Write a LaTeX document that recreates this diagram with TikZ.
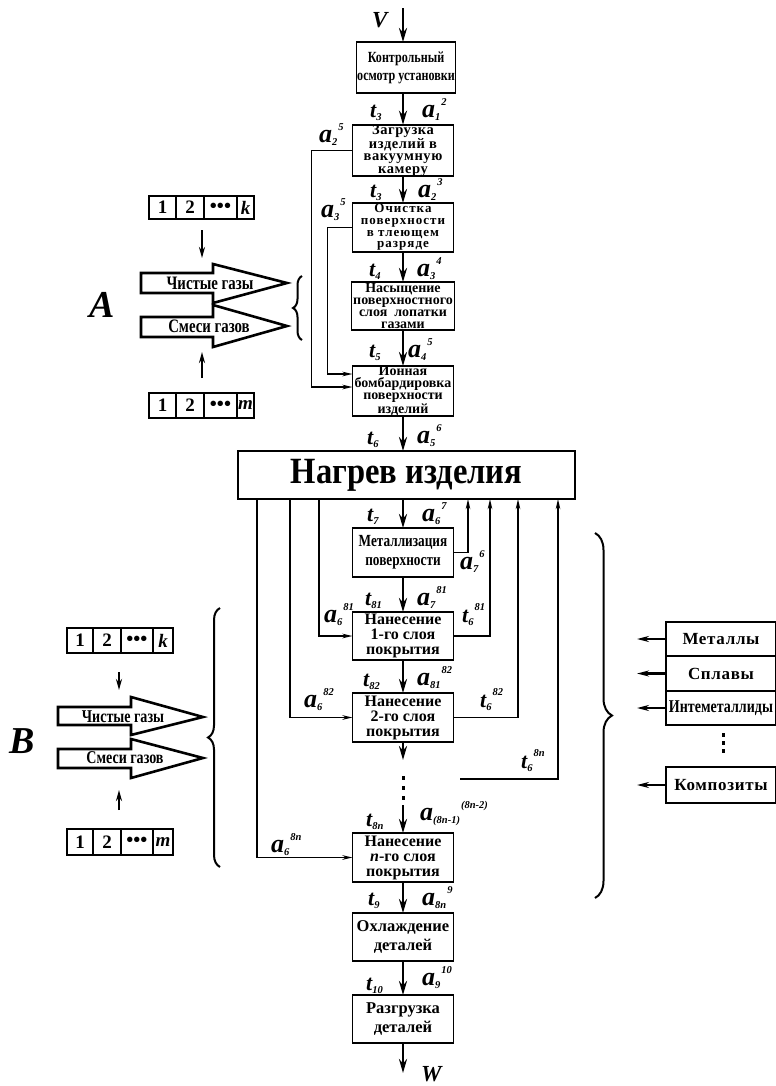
\documentclass[tikz,border=0pt]{standalone}
\usepackage{fontspec}
\setmainfont{Liberation Serif}
\newfontfamily\narrowf[FakeStretch=0.78]{Liberation Serif}
\newfontfamily\headf[FakeStretch=0.88]{Liberation Serif}
\usetikzlibrary{arrows.meta, positioning, calc, decorations.pathreplacing}
\newcommand{\fs}[2]{\fontsize{#1bp}{#2bp}\selectfont}
\newcommand{\idx}[4]{{\bfseries\itshape\fs{#1}{#1}#2\fs{10.5}{10.5}\raisebox{-3bp}{#3}\raisebox{12bp}{\kern1bp#4}}}
\newcommand{\alab}[2]{\idx{26}{a}{#1}{#2}}
\newcommand{\tlab}[2]{\idx{22}{t}{#1}{#2}}
\tikzset{
  opbox/.style={draw, line width=1.9bp, inner sep=0pt, outer sep=0pt, align=center, minimum width=101bp, minimum height=49bp, font=\fs{14}{12}\bfseries},
  condbox/.style={opbox, font=\narrowf\fs{15.5}{18}\bfseries},
  layerbox/.style={opbox, font=\fs{16}{15}\bfseries},
  endbox/.style={opbox, font=\fs{16.5}{18.5}\bfseries},
  cell/.style={draw, line width=1.9bp, inner sep=0pt, outer sep=0pt, minimum height=24bp, font=\fs{19}{19}\bfseries},
  matbox/.style={draw, line width=1.9bp, inner sep=0pt, outer sep=0pt, minimum width=110bp, minimum height=35bp, font=\fs{17}{17}\bfseries\addfontfeature{LetterSpace=4}},
  gastext/.style={inner sep=0pt, font=\narrowf\fs{19}{19}\bfseries},
  gasarrow/.style={line width=2.6bp, fill=white, line join=miter},
  flow/.style={-{Stealth[length=14bp,width=8bp]}, line width=2.6bp},
  feed/.style={-{Stealth[length=10bp,width=4.5bp]}, line width=1.8bp},
  pick/.style={-{Stealth[length=11bp,width=6bp]}, line width=2.2bp},
  curly/.style={decorate, decoration={brace, amplitude=#1}, line width=2bp},
  lbl/.style={anchor=base west, inner sep=0pt},
  biglet/.style={inner sep=0pt, font=\fs{38}{38}\bfseries\itshape},
}

\begin{document}
\begin{tikzpicture}[x=1bp, y=-1bp]
  \useasboundingbox (0,0) rectangle (776,1086);

  % main column
  \node[condbox, minimum width=99bp, minimum height=51bp] (kon) at (406,67.5) {Контрольный\\осмотр установки};
  \node[opbox, font=\fs{14.5}{12.4}\bfseries\addfontfeature{LetterSpace=4}, minimum height=51bp] (zag) at (403,150.5) {Загрузка\\изделий в\\вакуумную\\камеру};
  \node[opbox, font=\fs{13}{11.7}\bfseries\addfontfeature{LetterSpace=8}] (och) at (403,227.5) {Очистка\\поверхности\\в тлеющем\\разряде};
  \node[opbox, minimum width=103bp, minimum height=48bp] (nas) at (403,306) {Насыщение\\поверхностного\\слоя\ \ лопатки\\газами};
  \node[opbox, minimum height=50bp] (ion) at (403,391) {Ионная\\бомбардировка\\поверхности\\изделий};
  \node[draw, line width=1.9bp, minimum width=337bp, minimum height=48bp, inner sep=0pt, outer sep=0pt, font=\headf\fs{37}{37}\bfseries] (nag) at (406.5,475) {Нагрев изделия};
  \node[condbox, font=\narrowf\fs{17}{19}\bfseries] (met) at (403,552.5) {Металлизация\\поверхности};
  \node[layerbox, minimum height=48bp] (nan1) at (403,636) {Нанесение\\1-го слоя\\покрытия};
  \node[layerbox] (nan2) at (403,717.5) {Нанесение\\2-го слоя\\покрытия};
  \node[layerbox] (nanN) at (403,857.5) {Нанесение\\\textit{n}-го слоя\\покрытия};
  \node[endbox, minimum height=48bp] (ohl) at (403,937) {Охлаждение\\деталей};
  \node[endbox, minimum height=48bp] (razg) at (403,1019) {Разгрузка\\деталей};

  \coordinate (vin) at (403,8);
  \coordinate (wout) at (403,1073);
  \coordinate (dtop) at (403,760);
  \coordinate (dbot) at (403,805);
  \draw[flow] (vin) -- (vin |- kon.north);
  \foreach \i/\j in {kon/zag,zag/och,och/nas,nas/ion,nag/met,met/nan1,nan1/nan2,nanN/ohl,ohl/razg}
    \draw[flow] (\j.north |- \i.south) -- (\j.north);
  \draw[flow] (ion.south) -- (ion.south |- nag.north);
  \draw[flow] (nan2.south) -- (dtop);
  \draw[flow] (dbot) -- (nanN.north);
  \draw[flow] (razg.south) -- (wout);
  \foreach \y in {776,786,796} \fill (401.5,\y) rectangle +(3.5,4);

  % returns into ion bombardment
  \draw[feed] (zag.west) -- ++(-41,0) |- ($(ion.west)+(0,-4)$);
  \draw[feed] (och.west) -- ++(-25,0) |- ($(ion.west)+(0,-17)$);

  % heating loops
  \draw[feed] ($(nag.south west)+(81,0)$) |- (nan1.west);
  \draw[feed] ($(nag.south west)+(52,0)$) |- (nan2.west);
  \draw[feed] ($(nag.south west)+(19,0)$) |- (nanN.west);
  \draw[feed] (met.east) -| ($(nag.south west)+(230,0)$);
  \draw[feed] (nan1.east) -| ($(nag.south west)+(252,0)$);
  \draw[feed] (nan2.east) -| ($(nag.south west)+(280,0)$);
  \coordinate (lastout) at (460,779);
  \draw[feed] (lastout) -| ($(nag.south west)+(320,0)$);

  % labels
  \node[lbl] (vlab) at (372,27) {\fs{23}{23}\bfseries\itshape V};
  \node[lbl] (wlab) at (421,1081) {\fs{23}{23}\bfseries\itshape W};
  \node[lbl] (tl1) at (370,117) {\tlab{3}{}};
  \node[lbl] (al1) at (422,117) {\alab{1}{2}};
  \node[lbl] (al2) at (319,142) {\alab{2}{5}};
  \node[lbl] (tl2) at (370,197) {\tlab{3}{}};
  \node[lbl] (al3) at (418,197) {\alab{2}{3}};
  \node[lbl] (al4) at (321,217) {\alab{3}{5}};
  \node[lbl] (tl3) at (369,276) {\tlab{4}{}};
  \node[lbl] (al5) at (417,276) {\alab{3}{4}};
  \node[lbl] (tl4) at (369,357) {\tlab{5}{}};
  \node[lbl] (al6) at (408,357) {\alab{4}{5}};
  \node[lbl] (tl5) at (367,444) {\tlab{6}{}};
  \node[lbl] (al7) at (417,443) {\alab{5}{6}};
  \node[lbl] (tl6) at (367,521) {\tlab{7}{}};
  \node[lbl] (al8) at (422,521) {\alab{6}{7}};
  \node[lbl] (al9) at (460,569) {\alab{7}{6}};
  \node[lbl] (tl7) at (365,605) {\tlab{81}{}};
  \node[lbl] (al10) at (417,605) {\alab{7}{81}};
  \node[lbl] (al11) at (324,622) {\alab{6}{81}};
  \node[lbl] (tl8) at (462,622) {\tlab{6}{81}};
  \node[lbl] (tl9) at (363,686) {\tlab{82}{}};
  \node[lbl] (al12) at (417,685) {\alab{81}{82}};
  \node[lbl] (al13) at (304,707) {\alab{6}{82}};
  \node[lbl] (tl10) at (480,707) {\tlab{6}{82}};
  \node[lbl] (tl11) at (521,768) {\tlab{6}{8n}};
  \node[lbl] (tl12) at (366,826) {\tlab{8n}{}};
  \node[lbl] (al14) at (420,820) {\alab{(8n-1)}{(8n-2)}};
  \node[lbl] (al15) at (271,852) {\alab{6}{8n}};
  \node[lbl] (tl13) at (368,905) {\tlab{9}{}};
  \node[lbl] (al16) at (422,905) {\alab{8n}{9}};
  \node[lbl] (tl14) at (366,990) {\tlab{10}{}};
  \node[lbl] (al17) at (422,985) {\alab{9}{10}};

  % group A
  \node[cell, minimum width=27bp, minimum height=23bp] (ka1) at (162.5,207.5) {1};
  \node[cell, minimum width=28bp, minimum height=23bp, right=0pt of ka1] (ka2) {2};
  \node[cell, minimum width=33bp, minimum height=23bp, right=0pt of ka2] (ka3) {\fs{20}{20}•••};
  \node[cell, minimum width=17bp, minimum height=23bp, right=0pt of ka3] (ka4) {\itshape k};
  \node[cell, minimum width=27bp, minimum height=25bp] (ma1) at (162.5,405.5) {1};
  \node[cell, minimum width=28bp, minimum height=25bp, right=0pt of ma1] (ma2) {2};
  \node[cell, minimum width=33bp, minimum height=25bp, right=0pt of ma2] (ma3) {\fs{20}{20}•••};
  \node[cell, minimum width=17bp, minimum height=25bp, right=0pt of ma3] (ma4) {\itshape m};
  \coordinate (ain) at (202,230);
  \coordinate (aout) at (202,258);
  \coordinate (amin) at (202,378);
  \coordinate (amout) at (202,352);
  \draw[pick] (ain) -- (aout);
  \draw[pick] (amin) -- (amout);
  \draw[gasarrow] (141,273) -- (213,273) -- (213,264) -- (287,283) -- (213,303) -- (213,293) -- (141,293) -- cycle;
  \draw[gasarrow] (141,317) -- (213,317) -- (213,305) -- (287,326) -- (213,347) -- (213,337) -- (141,337) -- cycle;
  \node[gastext] (gA1) at (210,283) {Чистые газы};
  \node[gastext] (gA2) at (209,326) {Смеси газов};
  \draw[curly=9bp] (302,340) -- (302,276);
  \node[biglet] (labA) at (102,305) {A};

  % group B
  \node[cell, minimum width=26bp, minimum height=25bp] (kb1) at (80,640.5) {1};
  \node[cell, minimum width=28bp, minimum height=25bp, right=0pt of kb1] (kb2) {2};
  \node[cell, minimum width=32bp, minimum height=25bp, right=0pt of kb2] (kb3) {\fs{20}{20}•••};
  \node[cell, minimum width=20bp, minimum height=25bp, right=0pt of kb3] (kb4) {\itshape k};
  \node[cell, minimum width=26bp, minimum height=26bp] (mb1) at (80,842) {1};
  \node[cell, minimum width=28bp, minimum height=26bp, right=0pt of mb1] (mb2) {2};
  \node[cell, minimum width=32bp, minimum height=26bp, right=0pt of mb2] (mb3) {\fs{20}{20}•••};
  \node[cell, minimum width=20bp, minimum height=26bp, right=0pt of mb3] (mb4) {\itshape m};
  \coordinate (bin) at (119,672);
  \coordinate (bout) at (119,690);
  \coordinate (bmin) at (119,810);
  \coordinate (bmout) at (119,790);
  \draw[pick] (bin) -- (bout);
  \draw[pick] (bmin) -- (bmout);
  \draw[gasarrow] (58,707) -- (131,707) -- (131,697) -- (203,717) -- (131,735) -- (131,725) -- (58,725) -- cycle;
  \draw[gasarrow] (58,749) -- (131,749) -- (131,739) -- (203,758) -- (131,778) -- (131,768) -- (58,768) -- cycle;
  \node[gastext, font=\narrowf\fs{18}{18}\bfseries] (gB1) at (123,717) {Чистые газы};
  \node[gastext, font=\narrowf\fs{18}{18}\bfseries] (gB2) at (125,758) {Смеси газов};
  \draw[curly=12bp] (220,867) -- (220,608);
  \node[biglet] (labB) at (22,741) {B};

  % materials
  \node[matbox, minimum height=34bp] (mat1) at (721,639) {Металлы};
  \node[matbox, below=0pt of mat1] (mat2) {Сплавы};
  \node[matbox, minimum height=34bp, below=0pt of mat2, font=\narrowf\fs{18}{18}\bfseries] (mat3) {Интеметаллиды};
  \node[matbox, minimum height=36bp] (mat4) at (721,785) {Композиты};
  \foreach \m in {mat1,mat2,mat3,mat4}
    \draw[-{Stealth[length=12bp,width=6bp]}, line width=2.6bp] (\m.west) -- ++(-29,0);
  \foreach \y in {733,741,749} \fill (721.5,\y) rectangle +(3.5,4);
  \draw[curly=17bp] (595,533) -- (595,898);
\end{tikzpicture}
\end{document}
